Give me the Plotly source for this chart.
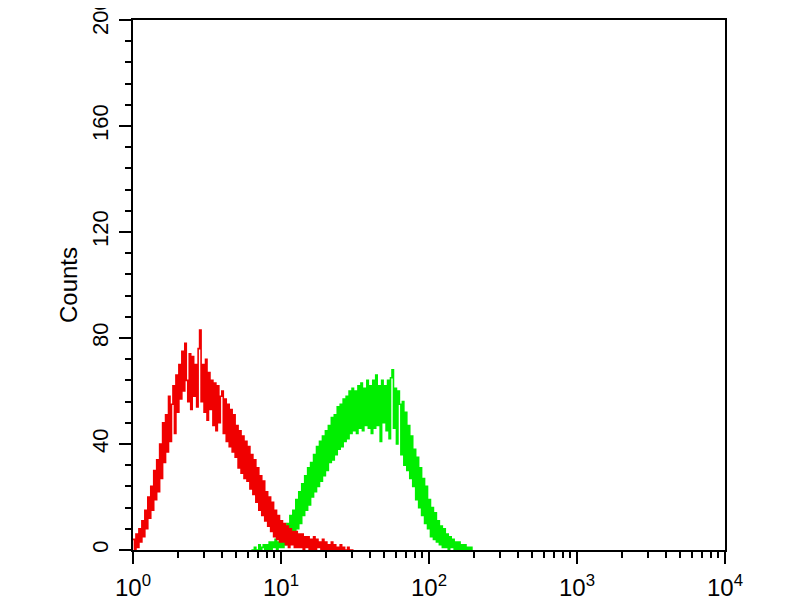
import plotly.graph_objects as go

# Histogram channels: 100 channels per decade on a 4-decade log scale
CH_PER_DECADE = 100

red_start_channel = 0
red_counts = [
    4, 0, 6, 1, 8, 3, 11, 5, 15, 8,
    20, 12, 24, 15, 30, 19, 34, 22, 40, 27,
    48, 33, 51, 37, 58, 41, 55, 62, 44, 66,
    52, 70, 57, 75, 60, 78, 64, 56, 74, 53,
    73, 58, 70, 54, 76, 83, 56, 70, 52, 72,
    49, 67, 53, 64, 47, 63, 45, 62, 48, 58,
    60, 44, 57, 41, 55, 39, 53, 37, 51, 35,
    47, 31, 45, 29, 43, 27, 41, 26, 39, 23,
    36, 21, 34, 18, 31, 15, 28, 13, 26, 11,
    22, 9, 20, 7, 18, 5, 15, 4, 13, 3,
    11, 3, 10, 2, 9, 1, 8, 2, 7, 1,
    7, 1, 6, 1, 6, 0, 5, 1, 5, 0,
    4, 0, 5, 0, 4, 1, 3, 0, 4, 0,
    3, 0, 2, 0, 3, 0, 2, 0, 1, 0,
    2, 0, 1, 0, 0, 1, 0, 0, 0, 0,
]

green_start_channel = 80
green_counts = [
    0, 0, 1, 0, 0, 2, 0, 1, 2, 0,
    2, 0, 3, 0, 3, 1, 4, 0, 3, 1,
    6, 1, 8, 2, 10, 3, 13, 4, 15, 6,
    19, 8, 22, 10, 25, 13, 28, 15, 31, 17,
    33, 20, 36, 22, 39, 24, 41, 26, 43, 28,
    45, 30, 47, 33, 50, 34, 51, 36, 54, 38,
    55, 39, 57, 41, 58, 42, 60, 44, 61, 45,
    60, 44, 62, 46, 63, 45, 61, 47, 64, 46,
    62, 44, 64, 46, 66, 47, 62, 41, 64, 48,
    62, 45, 64, 42, 65, 68, 46, 61, 40, 60,
    55, 36, 56, 32, 52, 30, 47, 27, 43, 24,
    38, 19, 35, 16, 31, 13, 27, 10, 24, 8,
    19, 5, 16, 4, 14, 3, 11, 2, 9, 1,
    8, 1, 6, 0, 5, 1, 4, 0, 3, 0,
    3, 0, 2, 0, 2, 0, 1, 0, 1, 0,
]

x_tickvals = [1, 10, 100, 1000, 10000]
x_ticktext = ["10<sup>0</sup>", "10<sup>1</sup>", "10<sup>2</sup>", "10<sup>3</sup>", "10<sup>4</sup>"]
y_tickvals = [0, 40, 80, 120, 160, 200]
y_ticktext = ["0", "40", "80", "120", "160", "200"]
y_title = "Counts"


def channel_x(start, n):
    return [10 ** ((start + i) / CH_PER_DECADE) for i in range(n)]


fig = go.Figure()
fig.add_trace(go.Scatter(
    x=channel_x(green_start_channel, len(green_counts)), y=green_counts,
    mode="lines", line=dict(color="#00ee00", width=1.6, shape="hv"),
    showlegend=False, hoverinfo="skip",
))
fig.add_trace(go.Scatter(
    x=channel_x(red_start_channel, len(red_counts)), y=red_counts,
    mode="lines", line=dict(color="#f00000", width=1.6, shape="hv"),
    showlegend=False, hoverinfo="skip",
))

minor_x = [m * 10 ** d for d in range(4) for m in range(2, 10)]
minor_y = list(range(0, 201, 8))

fig.update_layout(
    width=800, height=600,
    margin=dict(l=125, r=83, t=12, b=58, autoexpand=False),
    paper_bgcolor="white", plot_bgcolor="white",
    font=dict(family="Liberation Sans, Arial, sans-serif", color="black"),
    xaxis=dict(
        type="log", range=[0, 4], automargin=False,
        tickmode="array", tickvals=x_tickvals, ticktext=x_ticktext,
        ticks="outside", ticklen=12, tickwidth=2, tickcolor="black",
        minor=dict(tickmode="array", tickvals=minor_x, ticks="outside",
                   ticklen=6, tickwidth=2, tickcolor="black"),
        showline=True, linecolor="black", linewidth=2, mirror=True,
        showgrid=False, zeroline=False, ticklabeloverflow="allow",
        ticklabelstandoff=3,
        tickfont=dict(size=24, color="black"),
    ),
    yaxis=dict(
        range=[0, 200], automargin=False,
        tickmode="array", tickvals=y_tickvals, ticktext=y_ticktext,
        tickangle=-90, ticklabeloverflow="allow", ticklabelstandoff=2,
        ticks="outside", ticklen=12, tickwidth=2, tickcolor="black",
        minor=dict(tickmode="array", tickvals=minor_y, ticks="outside",
                   ticklen=6, tickwidth=2, tickcolor="black"),
        showline=True, linecolor="black", linewidth=2, mirror=True,
        showgrid=False, zeroline=False,
        tickfont=dict(size=22, color="black"),
        title=dict(text=y_title, font=dict(size=24, color="black"), standoff=4),
    ),
)

fig.write_html("out.html")
